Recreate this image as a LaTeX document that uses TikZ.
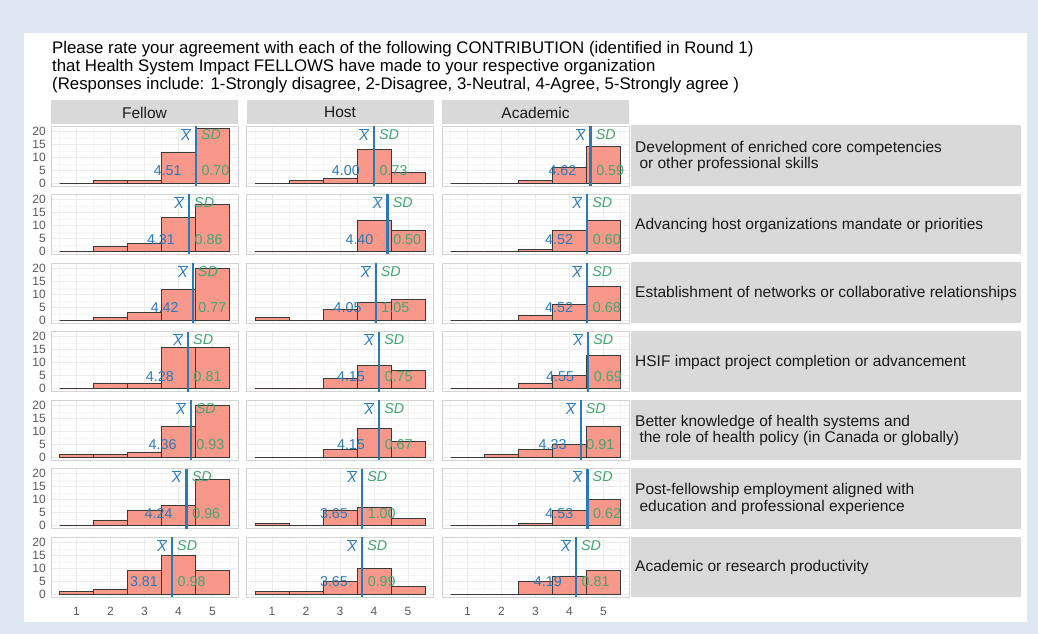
\documentclass[tikz,border=0pt]{standalone}
\usepackage{fontspec}
\setmainfont{Liberation Sans}
\definecolor{bgblue}{HTML}{DFE7F2}
\definecolor{stripgray}{HTML}{D9D9D9}
\definecolor{gridmaj}{HTML}{EBEBEB}
\definecolor{gridmin}{HTML}{F5F5F5}
\definecolor{panelborder}{HTML}{D3D3D3}
\definecolor{barfill}{HTML}{F8988A}
\definecolor{barline}{HTML}{3A3A3A}
\definecolor{meanblue}{HTML}{2A7AB8}
\definecolor{sdgreen}{HTML}{45A570}
\definecolor{axisgray}{HTML}{5A5A5A}
\definecolor{textdark}{HTML}{1A1A1A}
\tikzset{
  majgrid/.style={gridmaj, line width=0.9bp},
  mingrid/.style={gridmin, line width=0.5bp},
  pborder/.style={draw=panelborder, line width=0.8bp},
  bar/.style={fill=barfill, draw=barline, line width=1bp},
  meanline/.style={meanblue, line width=2.4bp},
  meantxt/.style={text=meanblue, inner sep=0pt, font=\fontsize{14.3bp}{16bp}\selectfont},
  sdtxt/.style={text=sdgreen, inner sep=0pt, font=\fontsize{14.3bp}{16bp}\selectfont},
  stripbox/.style={fill=stripgray},
  striptxt/.style={text=textdark, inner sep=0pt, font=\fontsize{15.5bp}{16.7bp}\selectfont},
  axistxt/.style={text=axisgray, inner sep=0pt, font=\fontsize{12bp}{14bp}\selectfont},
  titletxt/.style={text=black, inner sep=0pt, anchor=base west, font=\fontsize{16.8bp}{18bp}\selectfont}
}
\begin{document}
\begin{tikzpicture}[x=1bp,y=-1bp]
\useasboundingbox (0,0) rectangle (1038,634);
\fill[bgblue] (0,0) rectangle (1038,634);
\fill[white] (24,33) rectangle (1027,622);
% title
\node[titletxt] (t1) at (52,53.5) {Please rate your agreement with each of the following CONTRIBUTION (identified in Round 1)};
\node[titletxt] (t2) at (52,71.5) {that Health System Impact FELLOWS have made to your respective organization};
\node[titletxt] (t3) at (52,89.5) {(Responses include: 1-Strongly disagree, 2-Disagree, 3-Neutral, 4-Agree, 5-Strongly agree )};
% column strips
\foreach \c/\lab in {1/Fellow,2/Host,3/Academic}{
  \pgfmathsetmacro\L{51+195.5*(\c-1)}
  \fill[stripbox] (\L,100) rectangle ({\L+187},124.5);
  \node[striptxt] (col\c) at ({\L+93.5},112.5) {\lab};
}
% row strips
\foreach \r/\lab in {1/{Development of enriched core competencies\\\hspace*{.278em}or other professional skills},
                     2/{Advancing host organizations mandate or priorities},
                     3/{Establishment of networks or collaborative relationships},
                     4/{HSIF impact project completion or advancement},
                     5/{Better knowledge of health systems and\\\hspace*{.278em}the role of health policy (in Canada or globally)},
                     6/{Post-fellowship employment aligned with\\\hspace*{.278em}education and professional experience},
                     7/{Academic or research productivity}}{
  \pgfmathsetmacro\T{126+68.5*(\r-1)}
  \fill[stripbox] (631,{\T-0.5}) rectangle (1021,{\T+60});
  \node[striptxt, anchor=west, align=left] (row\r) at (635,{\T+30.5}) {\lab};
}
% panels
\foreach \r/\c/\a/\b/\cc/\d/\e/\m/\s in {
  1/1/0/1/1/12/21/4.51/0.70, 1/2/0/1/2/13/4/4.00/0.73, 1/3/0/0/1/6/14/4.62/0.59,
  2/1/0/2/3/13/18/4.31/0.86, 2/2/0/0/0/12/8/4.40/0.50, 2/3/0/0/1/8/12/4.52/0.60,
  3/1/0/1/3/12/20/4.42/0.77, 3/2/1/0/4/7/8/4.05/1.05, 3/3/0/0/2/6/13/4.52/0.68,
  4/1/0/2/2/16/16/4.28/0.81, 4/2/0/0/4/9/7/4.15/0.75, 4/3/0/0/2/5/13/4.55/0.69,
  5/1/1/1/2/12/20/4.36/0.93, 5/2/0/0/3/11/6/4.15/0.67, 5/3/0/1/3/5/12/4.33/0.91,
  6/1/0/2/6/8/18/4.24/0.96, 6/2/1/0/6/7/3/3.65/1.00, 6/3/0/0/1/6/10/4.53/0.62,
  7/1/1/2/9/15/9/3.81/0.98, 7/2/1/1/5/10/3/3.65/0.99, 7/3/0/0/5/7/9/4.19/0.81}{
  \pgfmathsetmacro\L{51+195.5*(\c-1)}
  \pgfmathsetmacro\T{126+68.5*(\r-1)}
  \pgfmathsetmacro\B{\T+60}
  \pgfmathsetmacro\Y{\B-2.7}
  \fill[white] (\L,\T) rectangle ({\L+187},\B);
  % minor grid
  \foreach \v in {0.5,1.5,2.5,3.5,4.5,5.5}{
    \draw[mingrid] ({\L+(\v-0.25)*34},\T) -- ({\L+(\v-0.25)*34},\B);}
  \foreach \w in {2.5,7.5,12.5,17.5}{
    \draw[mingrid] (\L,{\Y-\w*2.6}) -- ({\L+187},{\Y-\w*2.6});}
  % major grid
  \foreach \v in {1,...,5}{
    \draw[majgrid] ({\L+(\v-0.25)*34},\T) -- ({\L+(\v-0.25)*34},\B);}
  \foreach \w in {0,5,10,15,20}{
    \draw[majgrid] (\L,{\Y-\w*2.6}) -- ({\L+187},{\Y-\w*2.6});}
  \draw[pborder] (\L,\T) rectangle ({\L+187},\B);
  % bars
  \foreach \n [count=\k] in {\a,\b,\cc,\d,\e}{
    \draw[bar] ({\L+(\k-0.75)*34},\Y) rectangle ({\L+(\k+0.25)*34},{\Y-\n*2.6});}
  % mean line
  \pgfmathsetmacro\M{\L+(\m-0.25)*34}
  \draw[meanline] (\M,\T) -- (\M,\B);
  \node[meantxt, anchor=east] (xb\r\c) at ({\M-5},{\T+8.5}) {$\overline{\mbox{\itshape X}}$};
  \node[sdtxt, anchor=west] (sdl\r\c) at ({\M+5},{\T+8.5}) {\itshape SD};
  \node[meantxt, anchor=east] (mv\r\c) at ({\M-14},{\B-15}) {\m};
  \node[sdtxt, anchor=west] (sv\r\c) at ({\M+5.5},{\B-15}) {\s};
}
% y axis labels
\foreach \r in {1,...,7}{
  \pgfmathsetmacro\T{126+68.5*(\r-1)}
  \pgfmathsetmacro\Y{\T+60-2.7}
  \foreach \w in {0,5,10,15,20}{
    \node[axistxt, anchor=east] (ya\r\w) at (46,{\Y-\w*2.6}) {\w};}
}
% x axis labels
\foreach \c in {1,2,3}{
  \pgfmathsetmacro\L{51+195.5*(\c-1)}
  \foreach \v in {1,...,5}{
    \node[axistxt] (xa\c\v) at ({\L+(\v-0.25)*34},611) {\v};}
}
\end{tikzpicture}
\end{document}
